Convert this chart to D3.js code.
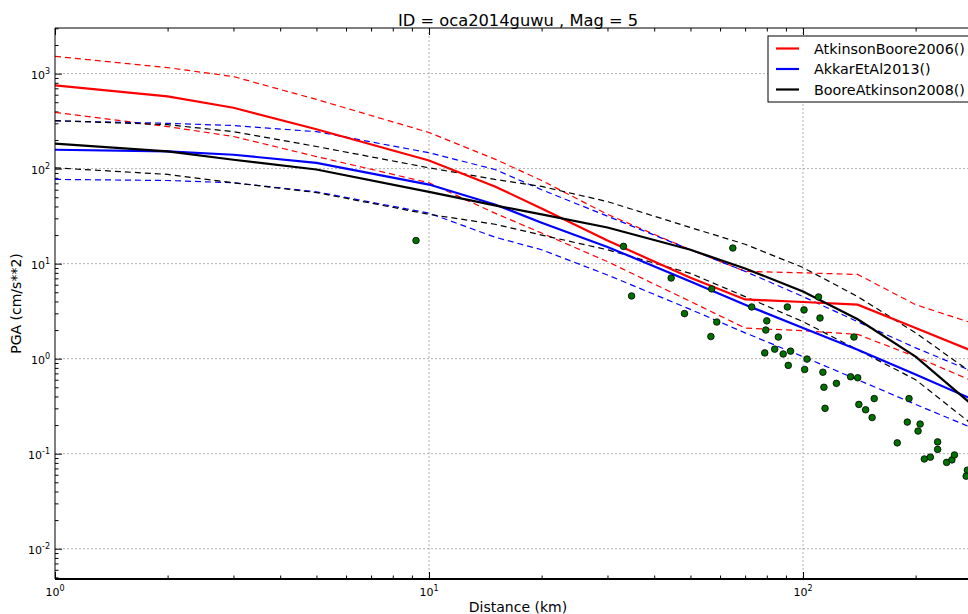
<!DOCTYPE html>
<html>
<head>
<meta charset="utf-8">
<script src="https://cdn.jsdelivr.net/npm/d3@7/dist/d3.min.js"></script>
<style>
	body { margin: 0; background: #fff; }
	svg { display: block; font-family: "DejaVu Sans", sans-serif; }
</style>
</head>
<body>
<div id="svg_div"><svg></svg></div>
<script>
// distances (km) where the model curves were read
var distances = [1, 2, 3, 5, 10, 15, 20, 30, 50, 70, 100, 140, 200, 300];

// AtkinsonBoore2006 : median, +1 sigma, -1 sigma
var ab06Mean  = [753, 575, 437, 260, 122, 65, 38, 17.5, 7.1, 4.2, 3.95, 3.7, 2.1, 1.1];
var ab06Plus  = [1520, 1157, 930, 535, 240, 126, 75, 33, 14, 8.3, 8.0, 7.7, 3.7, 2.2];
var ab06Minus = [390, 277, 218, 134, 71, 34, 21, 10.5, 4.0, 2.1, 1.97, 1.8, 1.05, 0.53];

// AkkarEtAl2013
var ak13Mean  = [158, 152, 140, 115, 68, 42, 27, 15, 6.5, 3.7, 2.1, 1.24, 0.68, 0.34];
var ak13Plus  = [318, 300, 284, 245, 147, 98, 60, 31.6, 14, 8.3, 4.5, 2.45, 1.3, 0.67];
var ak13Minus = [77, 75, 71, 57, 34, 19, 14, 7.6, 3.3, 1.87, 1.05, 0.6, 0.33, 0.17];

// BooreAtkinson2008
var ba08Mean  = [183, 152, 124, 98, 57, 41, 33, 24, 14, 8.9, 5.1, 2.6, 1.05, 0.27];
var ba08Plus  = [320, 290, 245, 171, 102, 77, 65, 45, 24, 16, 9.1, 4.5, 1.87, 0.6];
var ba08Minus = [102, 87, 71, 56, 33, 26, 20, 14, 7.9, 4.5, 2.45, 1.24, 0.6, 0.17];

// observed records
var obsDist = [9.23, 33.1, 34.8, 64.9, 44.4, 48.2, 57, 58.8, 56.7, 72.9, 90.8, 100.6, 110, 111,
	80, 79.5, 85.9, 136.8, 79, 84, 88.5, 92.6, 102.5, 91.3, 101, 113, 134, 140, 113.7, 122.8,
	155, 192, 114.5, 141, 147, 153, 190, 205.6, 203, 178.6, 229, 229, 211, 219, 242, 250, 254, 275, 273];
var obsPga = [17.5, 15.2, 4.57, 14.6, 7.06, 2.98, 5.42, 2.43, 1.71, 3.5, 3.5, 3.26, 4.46, 2.68,
	2.5, 2.0, 1.69, 1.69, 1.15, 1.26, 1.12, 1.2, 0.99, 0.85, 0.77, 0.72, 0.645, 0.63, 0.5, 0.55,
	0.38, 0.38, 0.3, 0.33, 0.29, 0.24, 0.215, 0.205, 0.173, 0.13, 0.133, 0.111, 0.088, 0.092, 0.081, 0.086, 0.097, 0.067, 0.058];

var modelNames = ["AtkinsonBoore2006()", "AkkarEtAl2013()", "BooreAtkinson2008()"];
var modelColors = ["#ff0000", "#0000ff", "#000000"];

// tick values
var xMajor = [1, 10, 100];
var yMajor = [0.01, 0.1, 1, 10, 100, 1000];
var xExp = ["0", "1", "2"];
var yExp = ["-2", "-1", "0", "1", "2", "3"];

var w = 968, h = 614;
var plotLeft = 55, plotTop = 28, plotRight = 981.5, plotBottom = 579;

var svg = d3.select("#svg_div").select("svg")
	.attr("width", w)
	.attr("height", h);

var xScale = d3.scaleLog().domain([1, 300]).range([plotLeft, plotRight]);
var yScale = d3.scaleLog().domain([0.0048, 3020]).range([plotBottom, plotTop]);

svg.append("defs").append("clipPath")
	.attr("id", "plotclip")
	.append("rect")
	.attr("x", plotLeft).attr("y", plotTop)
	.attr("width", plotRight - plotLeft).attr("height", plotBottom - plotTop);

// minor tick positions
var xMinor = [], yMinor = [];
xMajor.forEach(function(m) { for (var k = 2; k < 10; k++) if (m * k <= 300) xMinor.push(m * k); });
[0.001].concat(yMajor).forEach(function(m) {
	for (var k = 2; k < 10; k++) {
		var v = m * k;
		if (v > 0.0048 && v < 3020) yMinor.push(v);
	}
});

// grid
var grid = svg.append("g").attr("class", "grid");
grid.selectAll(".gx").data(xMajor.slice(1)).enter().append("line")
	.attr("x1", function(d) { return xScale(d); })
	.attr("x2", function(d) { return xScale(d); })
	.attr("y1", plotTop).attr("y2", plotBottom)
	.attr("stroke", "#b0b0b0").attr("stroke-dasharray", "2,2");
grid.selectAll(".gy").data(yMajor).enter().append("line")
	.attr("x1", plotLeft).attr("x2", plotRight)
	.attr("y1", function(d) { return yScale(d); })
	.attr("y2", function(d) { return yScale(d); })
	.attr("stroke", "#b0b0b0").attr("stroke-dasharray", "2,2");

// axes with inward ticks
function addAxis(axisFn, scale, values, size, transform) {
	var g = svg.append("g")
		.attr("transform", transform)
		.call(axisFn(scale).tickValues(values).tickSize(size).tickFormat(""));
	g.select(".domain").remove();
	g.selectAll("line").attr("stroke", "#000");
	return g;
}
addAxis(d3.axisBottom, xScale, xMajor, -7, "translate(0," + plotBottom + ")");
addAxis(d3.axisBottom, xScale, xMinor, -3.5, "translate(0," + plotBottom + ")");
addAxis(d3.axisTop, xScale, xMajor, -7, "translate(0," + plotTop + ")");
addAxis(d3.axisTop, xScale, xMinor, -3.5, "translate(0," + plotTop + ")");
addAxis(d3.axisLeft, yScale, yMajor, -7, "translate(" + plotLeft + ",0)");
addAxis(d3.axisLeft, yScale, yMinor, -3.5, "translate(" + plotLeft + ",0)");

// model curves
var line = d3.line()
	.x(function(d) { return xScale(d[0]); })
	.y(function(d) { return yScale(d[1]); });

var curves = [
	{ vals: ab06Plus, color: modelColors[0], dash: true },
	{ vals: ab06Minus, color: modelColors[0], dash: true },
	{ vals: ak13Plus, color: modelColors[1], dash: true },
	{ vals: ak13Minus, color: modelColors[1], dash: true },
	{ vals: ba08Plus, color: modelColors[2], dash: true },
	{ vals: ba08Minus, color: modelColors[2], dash: true },
	{ vals: ab06Mean, color: modelColors[0], dash: false },
	{ vals: ak13Mean, color: modelColors[1], dash: false },
	{ vals: ba08Mean, color: modelColors[2], dash: false }
];

var plot = svg.append("g").attr("clip-path", "url(#plotclip)");
plot.selectAll("path.curve")
	.data(curves)
	.enter()
	.append("path")
	.attr("class", "curve")
	.attr("d", function(c) {
		return line(distances.map(function(d, i) { return [d, c.vals[i]]; }));
	})
	.attr("fill", "none")
	.attr("stroke", function(c) { return c.color; })
	.attr("stroke-width", function(c) { return c.dash ? 1.2 : 2.2; })
	.attr("stroke-dasharray", function(c) { return c.dash ? "6,4" : null; });

// observations
plot.selectAll("circle")
	.data(obsDist)
	.enter()
	.append("circle")
	.attr("cx", function(d) { return xScale(d); })
	.attr("cy", function(d, i) { return yScale(obsPga[i]); })
	.attr("r", 3.3)
	.attr("fill", "#007000")
	.attr("stroke", "#000")
	.attr("stroke-width", 0.8);

// frame
svg.append("line").attr("x1", plotLeft).attr("x2", plotRight).attr("y1", plotTop).attr("y2", plotTop)
	.attr("stroke", "#000").attr("stroke-width", 1);
svg.append("line").attr("x1", plotLeft).attr("x2", plotLeft).attr("y1", plotTop).attr("y2", plotBottom)
	.attr("stroke", "#000").attr("stroke-width", 1);
svg.append("line").attr("x1", plotLeft).attr("x2", plotRight).attr("y1", plotBottom).attr("y2", plotBottom)
	.attr("stroke", "#000").attr("stroke-width", 2);

// tick labels with superscripts
function powLabel(sel) {
	sel.append("tspan").text("10");
	sel.append("tspan")
		.attr("dy", -5)
		.attr("font-size", "8px")
		.text(function(d) { return d; });
}
svg.selectAll(".xlab").data(xExp).enter().append("text")
	.attr("class", "xlab")
	.attr("x", function(d, i) { return xScale(xMajor[i]); })
	.attr("y", 596)
	.attr("text-anchor", "middle")
	.attr("font-size", "11px")
	.call(powLabel);
svg.selectAll(".ylab").data(yExp).enter().append("text")
	.attr("class", "ylab")
	.attr("x", 50)
	.attr("y", function(d, i) { return yScale(yMajor[i]) + 5; })
	.attr("text-anchor", "end")
	.attr("font-size", "11px")
	.call(powLabel);

// titles
svg.append("text")
	.attr("x", 518).attr("y", 26)
	.attr("text-anchor", "middle")
	.attr("font-size", "16.3px")
	.text("ID = oca2014guwu , Mag = 5");
svg.append("text")
	.attr("x", 518).attr("y", 612)
	.attr("text-anchor", "middle")
	.attr("font-size", "14px")
	.text("Distance (km)");
svg.append("text")
	.attr("transform", "translate(21," + ((plotTop + plotBottom) / 2) + ") rotate(-90)")
	.attr("text-anchor", "middle")
	.attr("font-size", "14px")
	.text("PGA (cm/s**2)");

// legend
var legend = svg.append("g").attr("transform", "translate(768,36)");
legend.append("rect")
	.attr("width", 230).attr("height", 66)
	.attr("fill", "#fff").attr("stroke", "#000").attr("stroke-width", 1);
var rows = legend.selectAll("g.row")
	.data(modelNames)
	.enter()
	.append("g")
	.attr("transform", function(d, i) { return "translate(0," + (12.5 + i * 20.5) + ")"; });
rows.append("line")
	.attr("x1", 8).attr("x2", 31)
	.attr("stroke", function(d, i) { return modelColors[i]; })
	.attr("stroke-width", 2.2);
rows.append("text")
	.attr("x", 46).attr("y", 5)
	.attr("font-size", "14.3px")
	.text(function(d) { return d; });
</script>
</body>
</html>
